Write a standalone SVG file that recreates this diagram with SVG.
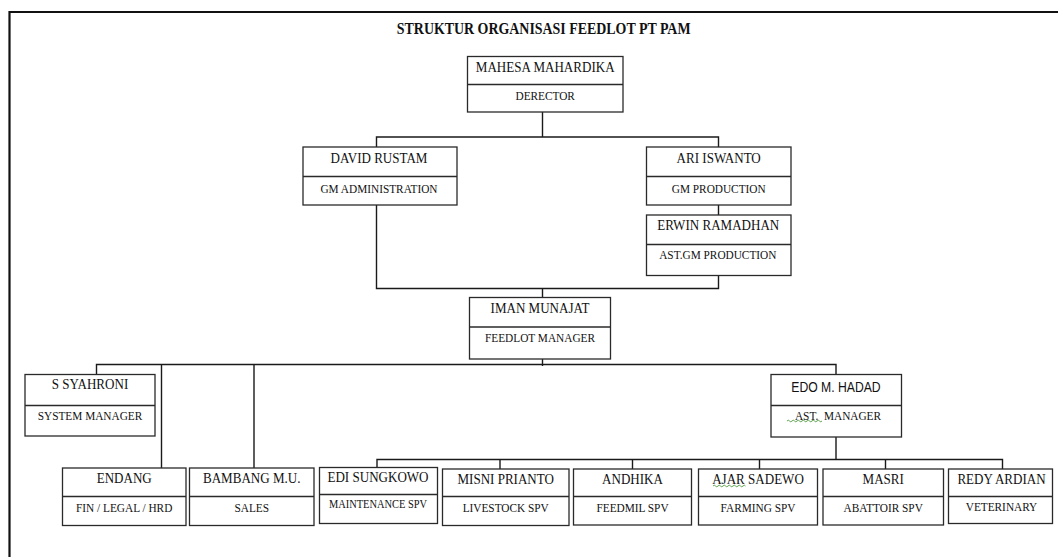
<svg xmlns="http://www.w3.org/2000/svg" width="1058" height="557" viewBox="0 0 1058 557">
<style>
.box{fill:#fff;stroke:#2a2a2a;stroke-width:1.3}
.div{stroke:#2a2a2a;stroke-width:1.3}
.n{font-size:15px;fill:#111;text-anchor:middle}
.r{font-size:13px;fill:#111;text-anchor:middle}
.s{font-size:14px;fill:#111;text-anchor:middle}
.t{font-size:16px;font-weight:bold;fill:#111;text-anchor:middle}
.c{fill:none;stroke:#1a1a1a;stroke-width:1.4}
.w{fill:none;stroke:#4f9a3c;stroke-width:0.9}
</style>
<rect width="1058" height="557" fill="#fff"/>
<path d="M9.5,557 V12 H1058" fill="none" stroke="#111" stroke-width="2.2"/>
<g font-family="Liberation Serif">
<text class="t" transform="translate(543.7,34) scale(0.87,1)">STRUKTUR ORGANISASI FEEDLOT PT PAM</text>

<g id="connectors">
<path class="c" d="M542.5,112 V137 M376.5,147 V137 H718.5 V147"/>
<path class="c" d="M718.5,205 V215"/>
<path class="c" d="M376.5,205 V288.5 H718.5 V275.5 M542.5,288.5 V297.5"/>
<path class="c" d="M542.5,359 V366 M96.5,374.5 V364.5 H836 V374.5 M161.5,364.5 V468 M254,364.5 V468"/>
<path class="c" d="M836,437 V459.5 M377,467.5 V459.5 H1002.5 V469 M500,459.5 V469 M632.5,459.5 V469 M759.5,459.5 V469 M885.5,459.5 V469"/>
</g>

<g id="mahesa">
<rect class="box" x="467.5" y="56.5" width="155.5" height="55.5"/>
<line class="div" x1="467.5" y1="84.5" x2="623" y2="84.5"/>
<text class="n" transform="translate(545.2,71.5) scale(0.87,1)">MAHESA MAHARDIKA</text>
<text class="r" transform="translate(545.2,100) scale(0.87,1)">DERECTOR</text>
</g>
<g id="david">
<rect class="box" x="303" y="147" width="154" height="58"/>
<line class="div" x1="303" y1="176.5" x2="457" y2="176.5"/>
<text class="n" transform="translate(379,163) scale(0.87,1)">DAVID RUSTAM</text>
<text class="r" transform="translate(379,192.5) scale(0.87,1)">GM ADMINISTRATION</text>
</g>
<g id="ari">
<rect class="box" x="646.5" y="147" width="144.5" height="58"/>
<line class="div" x1="646.5" y1="176.5" x2="791" y2="176.5"/>
<text class="n" transform="translate(718.7,163) scale(0.87,1)">ARI ISWANTO</text>
<text class="r" transform="translate(718.7,192.5) scale(0.87,1)">GM PRODUCTION</text>
</g>
<g id="erwin">
<rect class="box" x="646.5" y="215" width="144.5" height="60.5"/>
<line class="div" x1="646.5" y1="244.5" x2="791" y2="244.5"/>
<text class="n" transform="translate(718.2,229.5) scale(0.87,1)">ERWIN RAMADHAN</text>
<text class="r" transform="translate(717.8,259.3) scale(0.87,1)">AST.GM PRODUCTION</text>
</g>
<g id="iman">
<rect class="box" x="469.5" y="297.5" width="141" height="61.5"/>
<line class="div" x1="469.5" y1="327" x2="610.5" y2="327"/>
<text class="n" transform="translate(540,313.3) scale(0.87,1)">IMAN MUNAJAT</text>
<text class="r" transform="translate(540,342) scale(0.87,1)">FEEDLOT MANAGER</text>
</g>
<g id="syahroni">
<rect class="box" x="25" y="374.5" width="130" height="61.5"/>
<line class="div" x1="25" y1="405.5" x2="155" y2="405.5"/>
<text class="n" transform="translate(90,389) scale(0.87,1)">S SYAHRONI</text>
<text class="r" transform="translate(90,420) scale(0.87,1)">SYSTEM MANAGER</text>
</g>
<g id="edo">
<rect class="box" x="771" y="374.5" width="130.5" height="62.5"/>
<line class="div" x1="771" y1="405.5" x2="901.5" y2="405.5"/>
<text class="s" font-family="Liberation Sans" transform="translate(836,392) scale(0.87,1)">EDO M. HADAD</text>
<text class="r" xml:space="preserve" transform="translate(838,420) scale(0.87,1)">AST.  MANAGER</text>
<path class="w" d="M787,421 q1.25,-1.6 2.5,0 t2.5,0 t2.5,0 t2.5,0 t2.5,0 t2.5,0 t2.5,0 t2.5,0 t2.5,0 t2.5,0 t2.5,0 t2.5,0 t2.5,0 t2.5,0"/>
</g>
<g id="endang">
<rect class="box" x="62.5" y="468" width="123.5" height="57.5"/>
<line class="div" x1="62.5" y1="496.5" x2="186" y2="496.5"/>
<text class="n" transform="translate(124.2,482.5) scale(0.87,1)">ENDANG</text>
<text class="r" transform="translate(124.2,511.5) scale(0.87,1)">FIN / LEGAL / HRD</text>
</g>
<g id="bambang">
<rect class="box" x="189.5" y="468" width="124.5" height="57.5"/>
<line class="div" x1="189.5" y1="496.5" x2="314" y2="496.5"/>
<text class="n" transform="translate(251.7,482.5) scale(0.87,1)">BAMBANG M.U.</text>
<text class="r" transform="translate(251.7,511.5) scale(0.87,1)">SALES</text>
</g>
<g id="edi">
<rect class="box" x="319.5" y="467.5" width="118" height="56"/>
<line class="div" x1="319.5" y1="494.5" x2="437.5" y2="494.5"/>
<text class="n" transform="translate(378,482) scale(0.87,1)">EDI SUNGKOWO</text>
<text class="r" style="font-size:12px" transform="translate(378,508.3) scale(0.87,1)">MAINTENANCE SPV</text>
</g>
<g id="misni">
<rect class="box" x="442.5" y="469" width="126.5" height="56.5"/>
<line class="div" x1="442.5" y1="496.5" x2="569" y2="496.5"/>
<text class="n" transform="translate(505.7,483.5) scale(0.87,1)">MISNI PRIANTO</text>
<text class="r" transform="translate(505.7,511.5) scale(0.87,1)">LIVESTOCK SPV</text>
</g>
<g id="andhika">
<rect class="box" x="573.5" y="469" width="118" height="56"/>
<line class="div" x1="573.5" y1="496.5" x2="691.5" y2="496.5"/>
<text class="n" transform="translate(632.5,484) scale(0.87,1)">ANDHIKA</text>
<text class="r" transform="translate(632.5,511.5) scale(0.87,1)">FEEDMIL SPV</text>
</g>
<g id="ajar">
<rect class="box" x="698.5" y="469" width="119" height="56"/>
<line class="div" x1="698.5" y1="496.5" x2="817.5" y2="496.5"/>
<text class="n" transform="translate(758,484) scale(0.87,1)">AJAR SADEWO</text>
<text class="r" transform="translate(758,511.5) scale(0.87,1)">FARMING SPV</text>
<path class="w" d="M713,486 q1.25,-1.6 2.5,0 t2.5,0 t2.5,0 t2.5,0 t2.5,0 t2.5,0 t2.5,0 t2.5,0 t2.5,0 t2.5,0 t2.5,0 t2.5,0 t2.5,0"/>
</g>
<g id="masri">
<rect class="box" x="823" y="469" width="120.5" height="56"/>
<line class="div" x1="823" y1="496.5" x2="943.5" y2="496.5"/>
<text class="n" transform="translate(883.2,484) scale(0.87,1)">MASRI</text>
<text class="r" transform="translate(883.2,511.5) scale(0.87,1)">ABATTOIR SPV</text>
</g>
<g id="redy">
<rect class="box" x="948.5" y="469" width="104" height="54.5"/>
<line class="div" x1="948.5" y1="496.5" x2="1052.5" y2="496.5"/>
<text class="n" transform="translate(1001.5,484) scale(0.87,1)">REDY ARDIAN</text>
<text class="r" transform="translate(1001.5,511) scale(0.87,1)">VETERINARY</text>
</g>
</g>
</svg>
